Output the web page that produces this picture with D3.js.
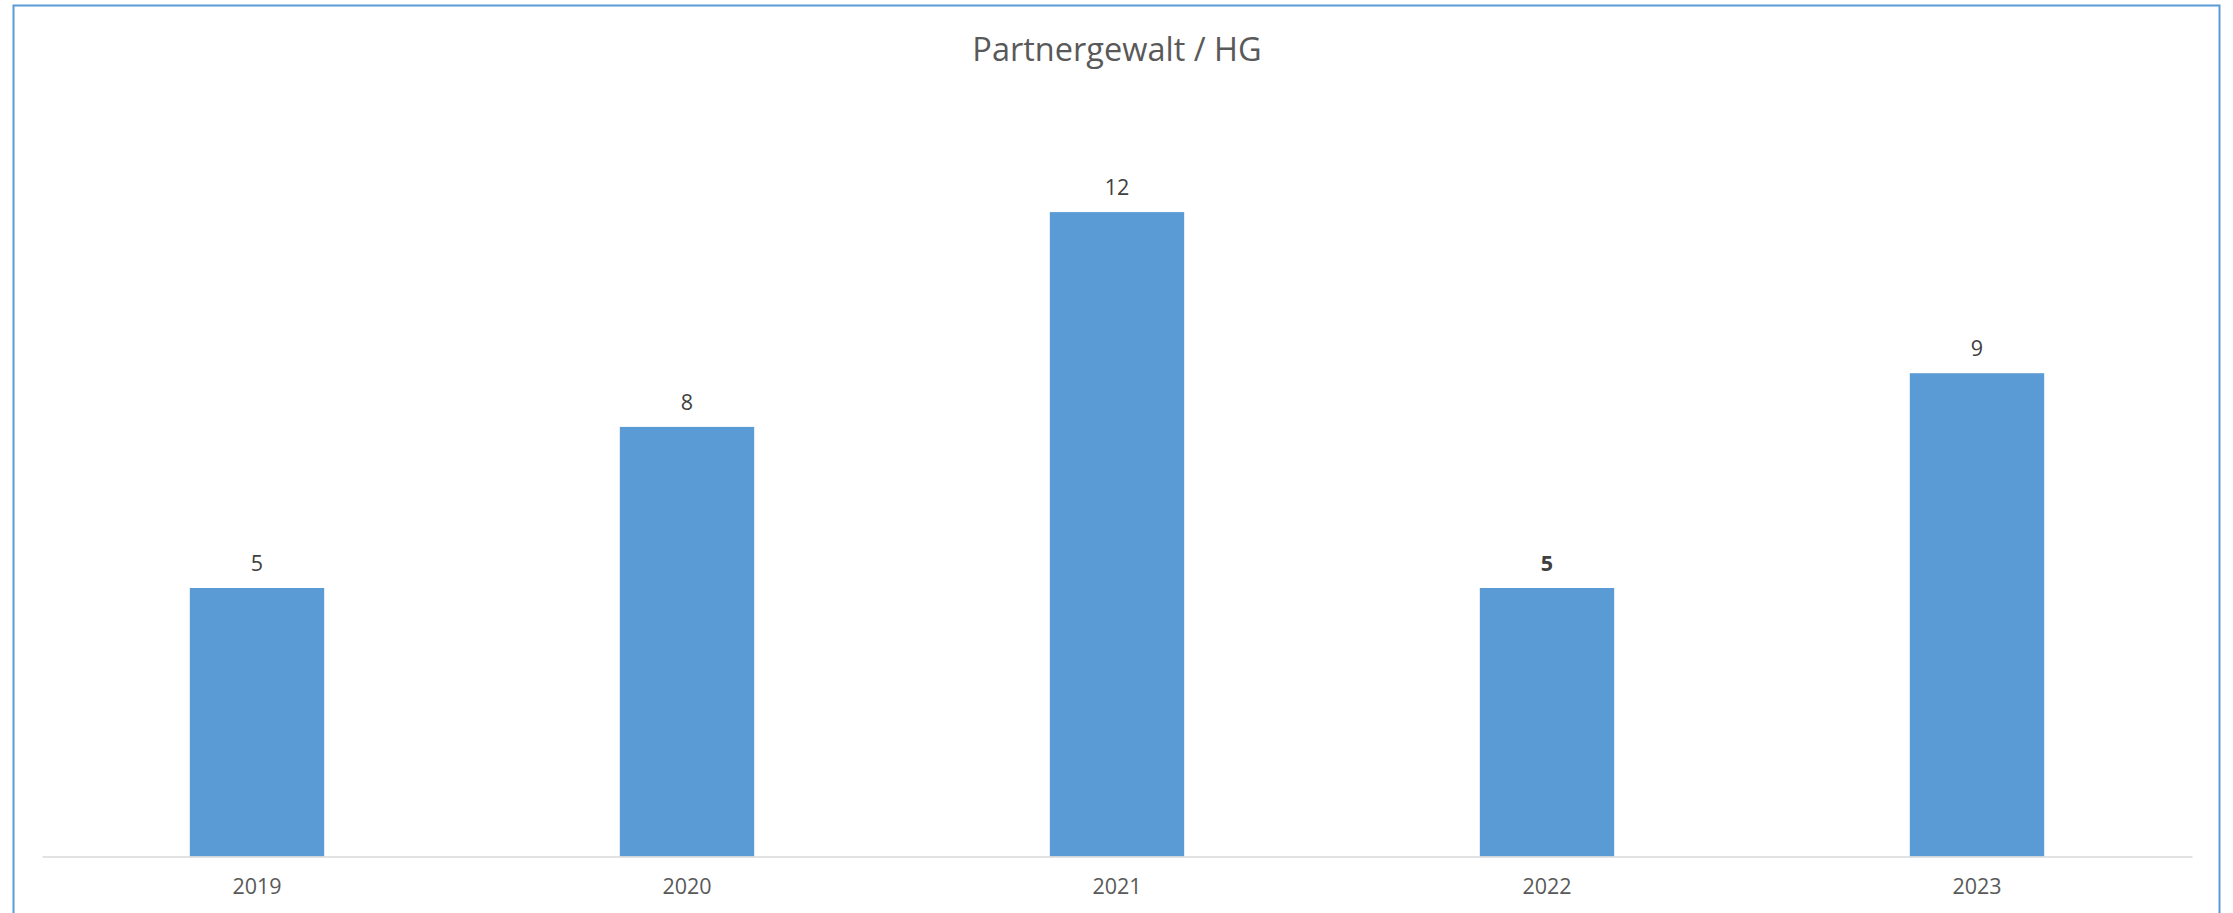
<head>
    <meta charset="utf-8">
    <style> body { margin: 0; background: #ffffff; } </style>
    <script src="https://d3js.org/d3.v7.min.js"></script>
</head>
<body>
    <div id="chart"></div>
    <script>
        var years = ["2019", "2020", "2021", "2022", "2023"];
        var values = [5, 8, 12, 5, 9];
        var boldLabel = [false, false, false, true, false];
        var chartTitle = "Partnergewalt / HG";

        var W = 2233, H = 913;
        var margin = { top: 104.7, bottom: 56.5, left: 42, right: 41 };
        var width = W - margin.left - margin.right,
            height = H - margin.top - margin.bottom;

        var svg = d3.select("#chart").append("svg")
            .attr("width", W)
            .attr("height", H);

        // outer frame, bottom runs off the page
        svg.append("rect")
            .attr("x", 13.5)
            .attr("y", 5.5)
            .attr("width", 2206)
            .attr("height", H + 20)
            .attr("fill", "none")
            .attr("stroke", "#5b9bd5")
            .attr("stroke-width", 2);

        svg.append("text")
            .attr("x", margin.left + width / 2)
            .attr("y", 61)
            .attr("text-anchor", "middle")
            .attr("font-family", "Open Sans, sans-serif")
            .attr("font-size", 32.5)
            .attr("fill", "#595959")
            .text(chartTitle);

        var focus = svg.append("g")
            .attr("transform", `translate(${margin.left},${margin.top})`);

        var x = d3.scaleBand()
            .domain(years)
            .range([0, width])
            .paddingInner(0.6875)
            .paddingOuter(0.34375);

        var y = d3.scaleLinear()
            .domain([0, 14])
            .range([height, 0]);

        var data = years.map((d, i) => ({ year: d, value: values[i], bold: boldLabel[i] }));

        focus.selectAll(".bar")
            .data(data)
            .enter()
            .append("rect")
            .attr("class", "bar")
            .attr("x", d => x(d.year))
            .attr("y", d => y(d.value))
            .attr("width", x.bandwidth())
            .attr("height", d => height - y(d.value))
            .attr("fill", "#5b9bd5");

        focus.selectAll(".lbl")
            .data(data)
            .enter()
            .append("text")
            .attr("class", "lbl")
            .attr("x", d => x(d.year) + x.bandwidth() / 2)
            .attr("y", d => y(d.value) - 17)
            .attr("text-anchor", "middle")
            .attr("font-family", "Open Sans, sans-serif")
            .attr("font-size", 21.5)
            .attr("font-weight", d => d.bold ? "bold" : "normal")
            .attr("fill", "#404040")
            .text(d => d.value);

        var xx = focus.append("g")
            .attr("transform", `translate(0,${height})`)
            .call(d3.axisBottom(x).tickSize(0).tickPadding(22));

        xx.select(".domain")
            .attr("stroke", "#d9d9d9")
            .attr("stroke-width", 1.5);

        xx.selectAll("text")
            .attr("font-family", "Open Sans, sans-serif")
            .attr("font-size", 21.5)
            .attr("fill", "#595959");
    </script>
</body>
